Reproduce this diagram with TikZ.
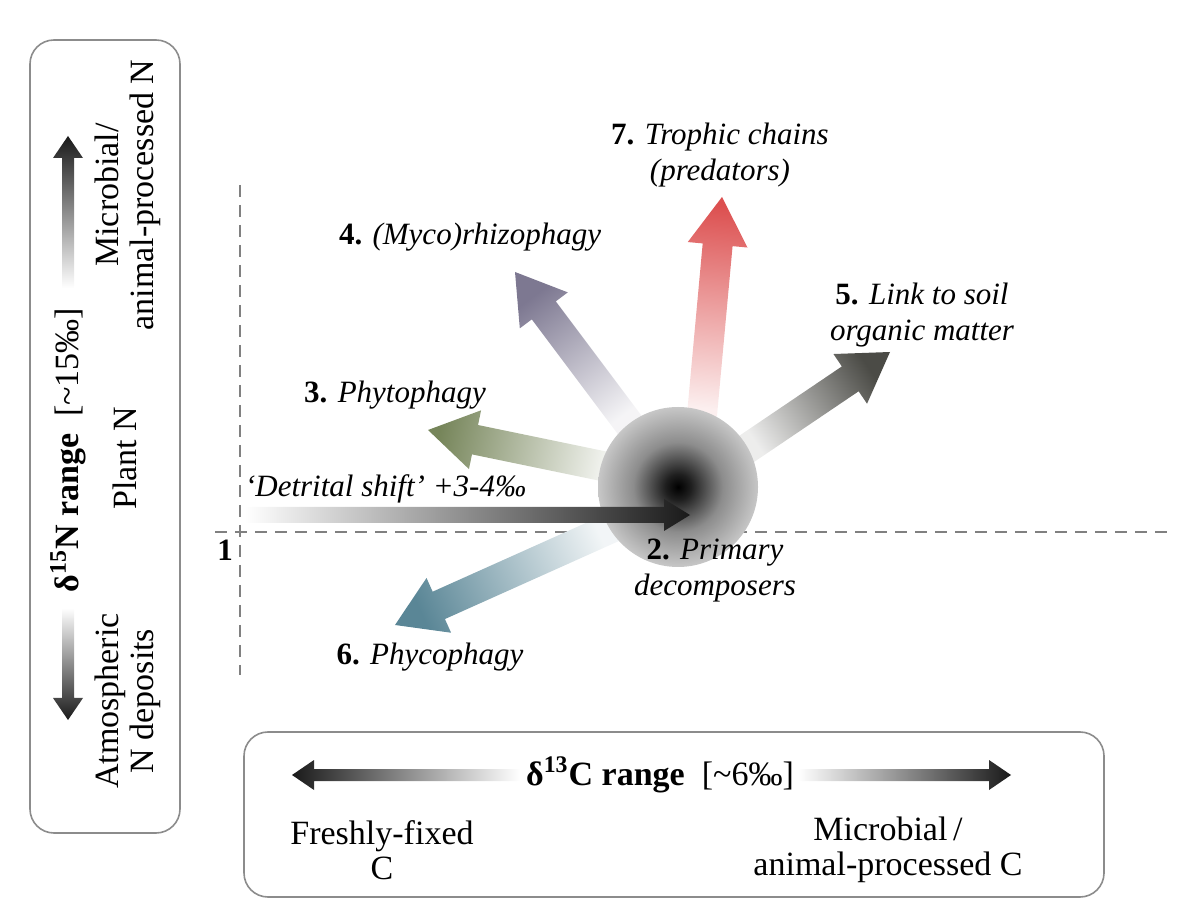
\documentclass[tikz,border=0pt]{standalone}
\usepackage{fontspec}
\setmainfont{Liberation Serif}
\usetikzlibrary{calc}

\definecolor{phytogreen}{HTML}{76855A}
\definecolor{mycopurple}{HTML}{7D7891}
\definecolor{predred}{HTML}{D83B3B}
\definecolor{soilgray}{HTML}{4B4B46}
\definecolor{phycoblue}{HTML}{5A8696}
\definecolor{framegray}{HTML}{8C8C8C}

\pgfdeclareradialshading{decompball}{\pgfpoint{0bp}{0bp}}{%
  color(0bp)=(black); color(4bp)=(black!88); color(14bp)=(black!45);
  color(26bp)=(black!20); color(40bp)=(black!6); color(50bp)=(white)}

% arrow sizes, changed locally for the thin ones
\newcommand{\shaftw}{7.5pt}
\newcommand{\headw}{15pt}
\newcommand{\headl}{24pt}

% shaded block arrow: tail, tip, tail colour, tip colour
\newcommand{\gradarrow}[4]{%
  \pgfmathanglebetweenpoints{\pgfpointanchor{#1}{center}}{\pgfpointanchor{#2}{center}}%
  \pgfmathsetmacro{\shadeang}{\pgfmathresult-90}%
  \path[top color=#4, bottom color=#3, shading angle=\shadeang]
    ($(#1)!\shaftw!-90:(#2)$)
    -- ($($(#2)!\headl!(#1)$)!\shaftw!-90:(#2)$)
    -- ($($(#2)!\headl!(#1)$)!\headw!-90:(#2)$)
    -- (#2)
    -- ($($(#2)!\headl!(#1)$)!\headw!90:(#2)$)
    -- ($($(#2)!\headl!(#1)$)!\shaftw!90:(#2)$)
    -- ($(#1)!\shaftw!90:(#2)$) -- cycle;}

\newcommand{\stepno}[1]{\textbf{\upshape #1.}}

\begin{document}
\begin{tikzpicture}[
    x=0.5pt, y=0.5pt,
    font=\fontsize{15.5}{18}\selectfont,
    panel/.style={draw=framegray, line width=0.8pt, rounded corners=12pt},
    guide/.style={draw=black!50, line width=1pt, dash pattern=on 6pt off 4pt},
    tag/.style={align=center, font=\fontsize{15.5}{18}\selectfont\itshape},
    endtext/.style={align=center, font=\fontsize{17}{17.5}\selectfont},
    rangelabel/.style={font=\fontsize{17}{20}\selectfont},
  ]
  \useasboundingbox (0,0) rectangle (1186,920);

  % panels
  \draw[panel] (30,87) rectangle (180,880);
  \draw[panel] (244,23) rectangle (1104,188);

  % axes of the plot
  \draw[guide] (215,388) -- (1170,388);
  \draw[guide] (240,735) -- (240,245);
  \node[font=\fontsize{15.5}{18}\selectfont\bfseries] (origin) at (225,370) {1};

  % d15N axis
  \node[rangelabel, rotate=90] (nrange) at (68,470)
    {\textbf{δ\textsuperscript{15}N range}\enspace[\textasciitilde15‰]};
  \node[endtext, rotate=90] (microN) at (128,725) {Microbial/\\animal-processed N};
  \node[endtext, rotate=90] (plantN) at (125,462) {Plant N};
  \node[endtext, rotate=90] (atmoN) at (128,219) {Atmospheric\\N deposits};
  \coordinate (nuplight) at (68,632);
  \coordinate (nuptip) at (68,784);
  \coordinate (ndownlight) at (68,312);
  \coordinate (ndowntip) at (68,200);

  % d13C axis
  \node[rangelabel] (crange) at (660,145)
    {\textbf{δ\textsuperscript{13}C range}\enspace[\textasciitilde6‰]};
  \node[endtext] (freshC) at (382,70) {Freshly-fixed\\C};
  \node[endtext] (microC) at (888,70) {Microbial\,/\\animal-processed C};
  \coordinate (cleftlight) at (520,145);
  \coordinate (clefttip) at (292,145);
  \coordinate (crightlight) at (798,145);
  \coordinate (crighttip) at (1011,145);

  \begin{scope}
    \renewcommand{\shaftw}{3pt}
    \renewcommand{\headw}{7.5pt}
    \renewcommand{\headl}{11pt}
    \gradarrow{nuplight}{nuptip}{white}{black!90}
    \gradarrow{ndownlight}{ndowntip}{white}{black!90}
    \gradarrow{cleftlight}{clefttip}{white}{black!90}
    \gradarrow{crightlight}{crighttip}{white}{black!90}
  \end{scope}

  % pathways out of the decomposers
  \coordinate (phytotail) at (612,452);
  \coordinate (phytotip) at (428,490);
  \coordinate (mycotail) at (632,492);
  \coordinate (mycotip) at (515,648);
  \coordinate (predtail) at (702,505);
  \coordinate (predtip) at (722,723);
  \coordinate (soiltail) at (745,470);
  \coordinate (soiltip) at (890,568);
  \coordinate (phycotail) at (618,395);
  \coordinate (phycotip) at (395,295);

  \gradarrow{phytotail}{phytotip}{phytogreen!10}{phytogreen}
  \gradarrow{mycotail}{mycotip}{mycopurple!8}{mycopurple}
  \gradarrow{predtail}{predtip}{predred!8}{predred!90}
  \gradarrow{soiltail}{soiltip}{soilgray!10}{soilgray}
  \gradarrow{phycotail}{phycotip}{phycoblue!8}{phycoblue}

  \node[circle, minimum size=80pt, inner sep=0pt, shading=decompball]
    (decomp) at (678,433) {};

  % detrital shift
  \coordinate (detritstart) at (245,405);
  \coordinate (detrittip) at (690,405);
  \begin{scope}
    \renewcommand{\shaftw}{4pt}
    \renewcommand{\headw}{8pt}
    \renewcommand{\headl}{13pt}
    \gradarrow{detritstart}{detrittip}{white}{black!90}
  \end{scope}
  \node[tag, anchor=south west] (detrit) at (238,410)
    {`Detrital shift' +3-4‰};

  % labels
  \node[tag] (phyto) at (395,525) {\stepno{3} Phytophagy};
  \node[tag] (myco) at (470,683) {\stepno{4} (Myco)rhizophagy};
  \node[tag] (pred) at (720,765) {\stepno{7} Trophic chains\\(predators)};
  \node[tag] (soil) at (922,605) {\stepno{5} Link to soil\\organic matter};
  \node[tag] (phyco) at (430,263) {\stepno{6} Phycophagy};
  \node[tag] (prim) at (715,349) {\stepno{2} Primary\\decomposers};
\end{tikzpicture}
\end{document}
